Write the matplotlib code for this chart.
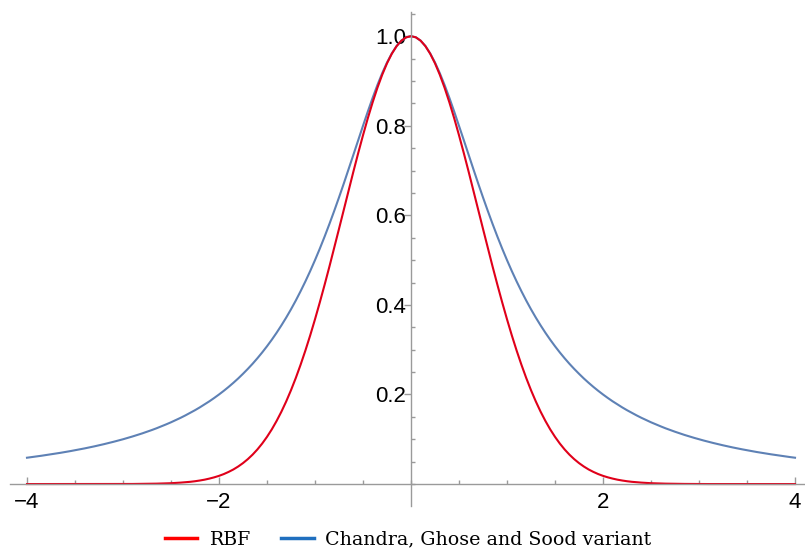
import numpy as np
import matplotlib
matplotlib.use("Agg")
import matplotlib.pyplot as plt
from matplotlib.lines import Line2D
from matplotlib.ticker import MultipleLocator, FixedLocator

# sample points, -4 .. 4 in steps of 0.05
xs = np.round(np.arange(-80, 81) * 0.05, 2)

rbf = [0, 0, 0, 0, 0, 0, 0, 0, 0, 0,
       0, 0, 0, 0, 0, 0, 0, 0, 0, 0,
       0.0001, 0.0002, 0.0002, 0.0003, 0.0004, 0.0005, 0.0007, 0.0009, 0.0012, 0.0015,
       0.0019, 0.0025, 0.0032, 0.0040, 0.0050, 0.0063, 0.0079, 0.0098, 0.0122, 0.0150,
       0.0183, 0.0223, 0.0271, 0.0326, 0.0392, 0.0468, 0.0556, 0.0657, 0.0773, 0.0905,
       0.1054, 0.1221, 0.1409, 0.1616, 0.1845, 0.2096, 0.2369, 0.2665, 0.2982, 0.3320,
       0.3679, 0.4056, 0.4449, 0.4855, 0.5273, 0.5698, 0.6126, 0.6554, 0.6977, 0.7390,
       0.7788, 0.8167, 0.8521, 0.8847, 0.9139, 0.9394, 0.9608, 0.9778, 0.9900, 0.9975,
       1.0,
       0.9975, 0.9900, 0.9778, 0.9608, 0.9394, 0.9139, 0.8847, 0.8521, 0.8167, 0.7788,
       0.7390, 0.6977, 0.6554, 0.6126, 0.5698, 0.5273, 0.4855, 0.4449, 0.4056, 0.3679,
       0.3320, 0.2982, 0.2665, 0.2369, 0.2096, 0.1845, 0.1616, 0.1409, 0.1221, 0.1054,
       0.0905, 0.0773, 0.0657, 0.0556, 0.0468, 0.0392, 0.0326, 0.0271, 0.0223, 0.0183,
       0.0150, 0.0122, 0.0098, 0.0079, 0.0063, 0.0050, 0.0040, 0.0032, 0.0025, 0.0019,
       0.0015, 0.0012, 0.0009, 0.0007, 0.0005, 0.0004, 0.0003, 0.0002, 0.0002, 0.0001,
       0, 0, 0, 0, 0, 0, 0, 0, 0, 0,
       0, 0, 0, 0, 0, 0, 0, 0, 0, 0]

cgs = [0.0588, 0.0602, 0.0617, 0.0632, 0.0648, 0.0664, 0.0681, 0.0698, 0.0716, 0.0735,
       0.0755, 0.0775, 0.0796, 0.0818, 0.0841, 0.0865, 0.0890, 0.0916, 0.0943, 0.0971,
       0.1000, 0.1031, 0.1063, 0.1096, 0.1131, 0.1168, 0.1206, 0.1246, 0.1289, 0.1333,
       0.1379, 0.1428, 0.1479, 0.1533, 0.1590, 0.1649, 0.1712, 0.1779, 0.1848, 0.1922,
       0.2000, 0.2082, 0.2169, 0.2261, 0.2358, 0.2462, 0.2571, 0.2686, 0.2809, 0.2939,
       0.3077, 0.3223, 0.3378, 0.3543, 0.3717, 0.3902, 0.4098, 0.4306, 0.4525, 0.4756,
       0.5000, 0.5256, 0.5525, 0.5806, 0.6098, 0.6400, 0.6711, 0.7030, 0.7353, 0.7678,
       0.8000, 0.8316, 0.8621, 0.8909, 0.9174, 0.9412, 0.9615, 0.9780, 0.9901, 0.9975,
       1.0,
       0.9975, 0.9901, 0.9780, 0.9615, 0.9412, 0.9174, 0.8909, 0.8621, 0.8316, 0.8000,
       0.7678, 0.7353, 0.7030, 0.6711, 0.6400, 0.6098, 0.5806, 0.5525, 0.5256, 0.5000,
       0.4756, 0.4525, 0.4306, 0.4098, 0.3902, 0.3717, 0.3543, 0.3378, 0.3223, 0.3077,
       0.2939, 0.2809, 0.2686, 0.2571, 0.2462, 0.2358, 0.2261, 0.2169, 0.2082, 0.2000,
       0.1922, 0.1848, 0.1779, 0.1712, 0.1649, 0.1590, 0.1533, 0.1479, 0.1428, 0.1379,
       0.1333, 0.1289, 0.1246, 0.1206, 0.1168, 0.1131, 0.1096, 0.1063, 0.1031, 0.1000,
       0.0971, 0.0943, 0.0916, 0.0890, 0.0865, 0.0841, 0.0818, 0.0796, 0.0775, 0.0755,
       0.0735, 0.0716, 0.0698, 0.0681, 0.0664, 0.0648, 0.0632, 0.0617, 0.0602, 0.0588]

x_major = [-4, -2, 2, 4]
y_major = [0.2, 0.4, 0.6, 0.8, 1.0]
labels = ["RBF", "Chandra, Ghose and Sood variant"]

axis_gray = "#9a9a9a"

fig = plt.figure(figsize=(8.05, 5.52), dpi=100)
ax = fig.add_axes([10 / 805, 46 / 552, 795 / 805, 494 / 552])

ax.plot(xs, cgs, color="#5e81b5", lw=1.5)
ax.plot(xs, rbf, color="#e0001a", lw=1.5)

ax.set_xlim(-4.177, 4.104)
ax.set_ylim(-0.049, 1.054)

# axes cross at the origin, Mathematica style
ax.spines["left"].set_position(("data", 0))
ax.spines["bottom"].set_position(("data", 0))
ax.spines["right"].set_visible(False)
ax.spines["top"].set_visible(False)
for s in ("left", "bottom"):
    ax.spines[s].set_color(axis_gray)
    ax.spines[s].set_linewidth(1.0)

ax.xaxis.set_major_locator(FixedLocator(x_major))
ax.xaxis.set_minor_locator(MultipleLocator(0.5))
ax.yaxis.set_major_locator(FixedLocator(y_major))
ax.yaxis.set_minor_locator(MultipleLocator(0.05))
ax.set_xticklabels(["\u2212%d" % -v if v < 0 else "%d" % v for v in x_major])
ax.set_yticklabels(["%.1f" % v for v in y_major])

ax.tick_params(axis="x", which="major", direction="in", length=5, width=1,
               color=axis_gray, pad=6, labelsize=16)
ax.tick_params(axis="x", which="minor", direction="in", length=3, width=1,
               color=axis_gray)
ax.tick_params(axis="y", which="major", direction="out", length=5, width=1,
               color=axis_gray, pad=-1.5, labelsize=16)
ax.tick_params(axis="y", which="minor", direction="in", length=3, width=1,
               color=axis_gray)
for t in ax.get_xticklabels() + ax.get_yticklabels():
    t.set_fontfamily("Liberation Sans")

handles = [Line2D([], [], color="#ff0000", lw=2.5),
           Line2D([], [], color="#1f6fbf", lw=2.5)]
fig.legend(handles, labels, loc="lower center", ncol=2, frameon=False,
           bbox_to_anchor=(0.507, -0.025), handlelength=1.7, handletextpad=0.6,
           columnspacing=1.65, prop={"family": "DejaVu Serif", "size": 13.7})

fig.savefig("out.png", dpi=100)
